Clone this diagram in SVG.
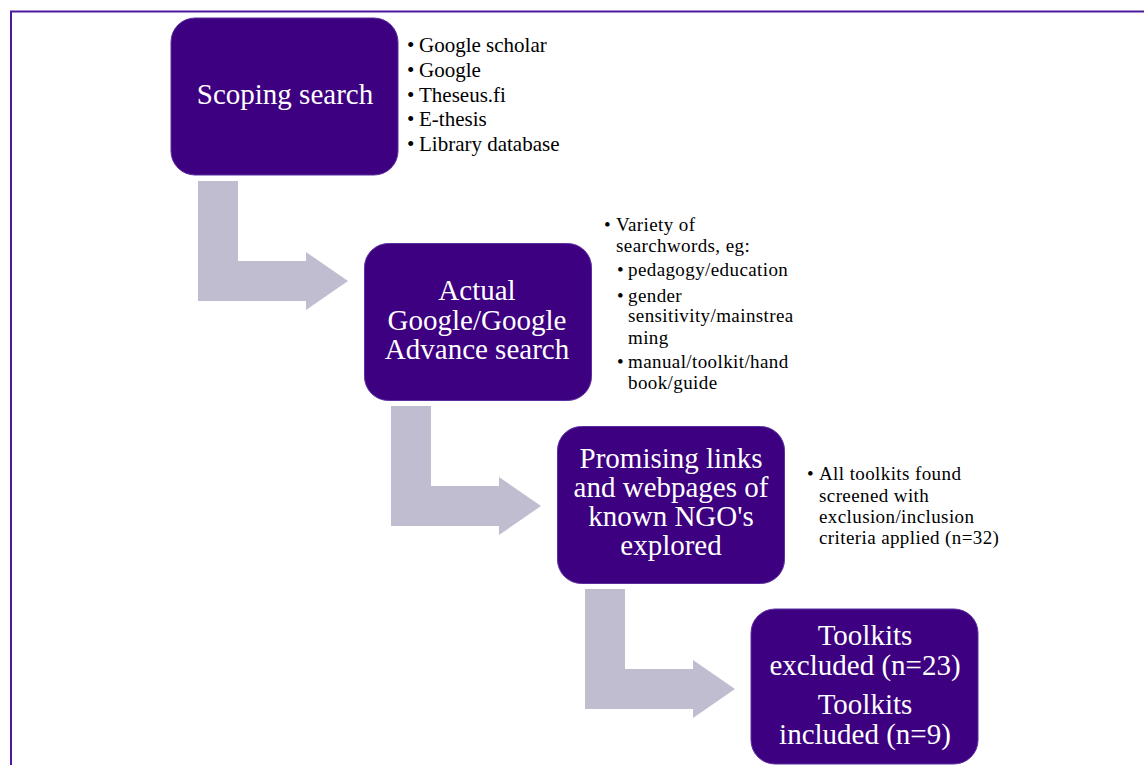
<svg xmlns="http://www.w3.org/2000/svg" width="1144" height="765" viewBox="0 0 1144 765">
<style>
.box{fill:#3d0080;stroke:#5b2fa0;stroke-width:1}
.lbl{font-family:"Liberation Serif","Times New Roman",serif;font-size:29px;fill:#ffffff;text-anchor:middle}
.bul{font-family:"Liberation Serif","Times New Roman",serif;font-size:21px;fill:#000000}
.bs{font-family:"Liberation Serif","Times New Roman",serif;font-size:19px;letter-spacing:0.4px;fill:#000000}
.arr{fill:#c0bdd1}
</style>
<defs>
<path id="bend" d="M0,0 H40 V80 H108 V71 L150,100 L108,129 V120 H0 Z"/>
</defs>
<rect width="1144" height="765" fill="#ffffff"/>
<path d="M11,766 V11.5 H1145" fill="none" stroke="#4b1a9c" stroke-width="2"/>
<g id="connectors">
<use href="#bend" class="arr" x="198" y="181"/>
<use href="#bend" class="arr" x="391" y="406"/>
<use href="#bend" class="arr" x="585" y="589"/>
</g>
<g id="node1">
<rect class="box" x="171" y="18" width="227" height="157" rx="24"/>
<text class="lbl" x="285" y="104">Scoping search</text>
</g>
<g id="notes1" class="bul">
<text x="407" y="52">•<tspan x="419">Google scholar</tspan></text>
<text x="407" y="77">•<tspan x="419">Google</tspan></text>
<text x="407" y="102">•<tspan x="419">Theseus.fi</tspan></text>
<text x="407" y="126">•<tspan x="419">E-thesis</tspan></text>
<text x="407" y="151">•<tspan x="419">Library database</tspan></text>
</g>
<g id="node2">
<rect class="box" x="364.5" y="243.5" width="227" height="157" rx="24"/>
<text class="lbl" x="477" y="300">Actual</text>
<text class="lbl" x="477" y="329.5">Google/Google</text>
<text class="lbl" x="477" y="359">Advance search</text>
</g>
<g id="notes2" class="bs">
<text x="604" y="231">•<tspan x="616">Variety of</tspan></text>
<text x="616" y="252">searchwords, eg:</text>
<text x="617" y="276">•<tspan x="628">pedagogy/education</tspan></text>
<text x="617" y="302">•<tspan x="628">gender</tspan></text>
<text x="628" y="322">sensitivity/mainstrea</text>
<text x="628" y="344">ming</text>
<text x="617" y="368">•<tspan x="628">manual/toolkit/hand</tspan></text>
<text x="628" y="389">book/guide</text>
</g>
<g id="node3">
<rect class="box" x="557.5" y="426.5" width="227" height="157" rx="24"/>
<text class="lbl" x="671" y="468">Promising links</text>
<text class="lbl" x="671" y="497">and webpages of</text>
<text class="lbl" x="671" y="526">known NGO's</text>
<text class="lbl" x="671" y="555">explored</text>
</g>
<g id="notes3" class="bs">
<text x="807" y="480">•<tspan x="819">All toolkits found</tspan></text>
<text x="819" y="502">screened with</text>
<text x="819" y="523">exclusion/inclusion</text>
<text x="819" y="544">criteria applied (n=32)</text>
</g>
<g id="node4">
<rect class="box" x="751" y="609" width="227" height="155" rx="24"/>
<text class="lbl" x="865" y="645">Toolkits</text>
<text class="lbl" x="865" y="674.5">excluded (n=23)</text>
<text class="lbl" x="865" y="714">Toolkits</text>
<text class="lbl" x="865" y="743.5">included (n=9)</text>
</g>
</svg>
